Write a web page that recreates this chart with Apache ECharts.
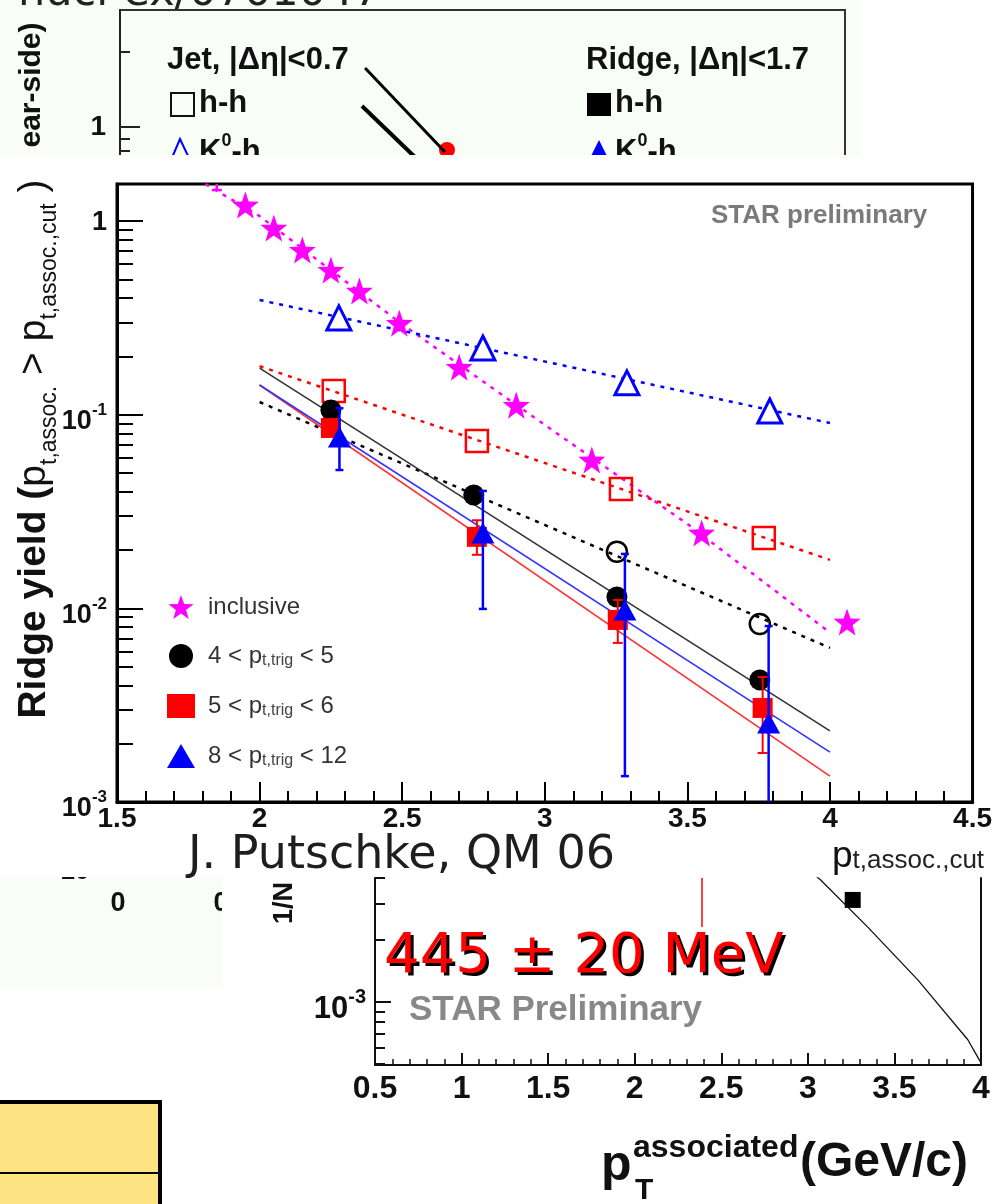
<!DOCTYPE html>
<html><head><meta charset="utf-8">
<script src="https://cdn.jsdelivr.net/npm/echarts@6/dist/echarts.min.js"></script>
<style>html,body{margin:0;padding:0;background:#fff}#c{width:995px;height:1204px}</style>
</head><body><div id="c"></div>
<script>
// ---------------- main plot data (Ridge yield vs p_t,assoc.,cut) ----------------
const xTickValues = [1.5, 2, 2.5, 3, 3.5, 4, 4.5];
const yDecadeValues = [0.001, 0.01, 0.1, 1];
const yMinorValues = [0.002,0.003,0.004,0.005,0.006,0.007,0.008,0.009,
                      0.02,0.03,0.04,0.05,0.06,0.07,0.08,0.09,
                      0.2,0.3,0.4,0.5,0.6,0.7,0.8,0.9];

// inclusive (magenta stars)
const inclX = [1.85, 1.95, 2.05, 2.15, 2.25, 2.35, 2.49, 2.70, 2.90, 3.165, 3.55, 4.06];
const inclY = [1.83, 1.21, 0.92, 0.708, 0.558, 0.435, 0.297, 0.176, 0.112, 0.0584, 0.0245, 0.0085];
const inclErrLo = [1.445, null, null, null, null, null, null, null, null, null, null, null];
const inclErrHi = [2.3, null, null, null, null, null, null, null, null, null, null, null];
const inclFitX = [1.75, 2.0, 2.5, 3.0, 3.5, 4.0];
const inclFitY = [1.75, 1.06, 0.293, 0.0885, 0.0273, 0.0075];

// 4 < pt,trig < 5 (black filled circles)
const blackX = [2.25, 2.751, 3.253, 3.754];
const blackY = [0.1057, 0.0385, 0.01145, 0.00427];
// 5 < pt,trig < 6 (red filled squares)
const redX = [2.25, 2.762, 3.256, 3.764];
const redY = [0.0854, 0.0234, 0.00871, 0.00306];
const redErrLo = [null, 0.0189, 0.00663, 0.00179];
const redErrHi = [null, 0.0285, 0.01105, 0.00442];
// 8 < pt,trig < 12 (blue filled triangles)
const blueX = [2.28, 2.783, 3.281, 3.785];
const blueY = [0.0767, 0.0245, 0.0098, 0.00256];
const blueErrLo = [0.0518, 0.00993, 0.00136, 0.0005];
const blueErrHi = [0.108, 0.0404, 0.0191, 0.0081];

// open markers
const openTriX = [2.278, 2.783, 3.288, 3.789];
const openTriY = [0.316, 0.221, 0.146, 0.1045];
const openSqX = [2.26, 2.762, 3.267, 3.768];
const openSqY = [0.1325, 0.0731, 0.0413, 0.0231];
const openCircX = [3.253, 3.754];
const openCircY = [0.0196, 0.0083];

// fit lines (endpoints at x = 2 and x = 4)
const fitX = [2.0, 4.0];
const fitBlackSolid = [0.174, 0.00233];
const fitRedSolid = [0.1423, 0.00136];
const fitBlueSolid = [0.1423, 0.00181];
const fitBlackDotted = [0.1163, 0.00625];
const fitRedDotted = [0.178, 0.0178];
const fitBlueDotted = [0.391, 0.0906];

const legendNames = ['inclusive', '4 < pt,trig < 5', '5 < pt,trig < 6', '8 < pt,trig < 12'];

// ---------------- top fragment data ----------------
const topLineAX = [1.352, 1.793], topLineAY = [1.725, 0.794];
const topLineBX = [1.335, 1.644], topLineBY = [1.214, 0.737];
const topDotX = [1.804], topDotY = [0.809];

// ---------------- bottom-right fragment data ----------------
const brCurveX = [3.045, 3.074, 3.346, 3.635, 3.924, 4.0];
const brCurveY = [0.0041, 0.00391, 0.00231, 0.00128, 0.000655, 0.000506];
const brSquareX = [3.259], brSquareY = [0.00313];

// ---------------- helpers ----------------
const zip = (xs, ys) => xs.map((x, i) => [x, ys[i]]);
const STAR = 'path://M12,0 L14.9,8.3 23.6,8.5 16.7,13.8 19.2,22.2 12,17.2 4.8,22.2 7.3,13.8 0.4,8.5 9.1,8.3 Z';
const LS = 'Liberation Sans';

function errSeries(xs, lo, hi, color, width, cap, z) {
  const data = [];
  xs.forEach((x, i) => { if (lo[i] != null) data.push([x, lo[i], hi[i]]); });
  return {
    type: 'custom', xAxisIndex: 0, yAxisIndex: 0, clip: true, z: z, silent: true,
    data, encode: { x: 0, y: [1, 2] },
    renderItem(params, api) {
      const x = api.value(0);
      const a = api.coord([x, api.value(1)]);
      const b = api.coord([x, api.value(2)]);
      const st = { stroke: color, lineWidth: width };
      return { type: 'group', children: [
        { type: 'line', shape: { x1: a[0], y1: a[1], x2: b[0], y2: b[1] }, style: st },
        { type: 'line', shape: { x1: a[0] - cap, y1: a[1], x2: a[0] + cap, y2: a[1] }, style: st },
        { type: 'line', shape: { x1: b[0] - cap, y1: b[1], x2: b[0] + cap, y2: b[1] }, style: st }
      ]};
    }
  };
}
function fitLine(xs, ys, color, width, type) {
  return { type: 'line', xAxisIndex: 0, yAxisIndex: 0, data: zip(xs, ys), showSymbol: false,
    silent: true, z: 2, lineStyle: { color, width, type }, clip: true };
}

const supRich = {
  n: { fontFamily: LS, fontSize: 27, fontWeight: 'bold', color: '#111', lineHeight: 40 },
  s: { fontFamily: LS, fontSize: 17, fontWeight: 'bold', color: '#111', lineHeight: 16, verticalAlign: 'top' },
  one: { fontFamily: LS, fontSize: 27, fontWeight: 'bold', color: '#111', lineHeight: 30, padding: [0, 0, 10, 0] }
};
const supRichBR = {
  n: { fontFamily: LS, fontSize: 31, fontWeight: 'bold', color: '#111', lineHeight: 44 },
  s: { fontFamily: LS, fontSize: 20, fontWeight: 'bold', color: '#111', lineHeight: 18, verticalAlign: 'top' }
};
function decadeLabel(v) {
  const e = Math.round(Math.log10(v));
  return e === 0 ? '{one|1}' : '{n|10}{s|' + e + '}';
}

const chart = echarts.init(document.getElementById('c'), null, { renderer: 'canvas' });

const option = {
  animation: false,
  backgroundColor: '#fff',
  grid: [
    { left: 117, top: 184, width: 856, height: 618, show: true, borderColor: '#000', borderWidth: 3, backgroundColor: 'transparent' },
    { left: 375, top: 878, width: 606, height: 187, show: false },
    { left: 120, top: 10, width: 725, height: 150, show: true, borderColor: '#333', borderWidth: 2, backgroundColor: 'transparent' }
  ],
  xAxis: [
    { gridIndex: 0, type: 'value', min: 1.5, max: 4.5, interval: 0.5,
      axisLine: { lineStyle: { color: '#000', width: 3 } },
      axisTick: { inside: true, length: 20, lineStyle: { color: '#000', width: 2 } },
      minorTick: { show: true, splitNumber: 5, length: 11, lineStyle: { color: '#000', width: 2 } },
      splitLine: { show: false }, minorSplitLine: { show: false },
      axisLabel: { margin: 3, fontFamily: LS, fontSize: 28, fontWeight: 'bold', color: '#111',
        formatter: v => String(v) } },
    { gridIndex: 1, type: 'value', min: 0.5, max: 4, interval: 0.5,
      axisLine: { lineStyle: { color: '#111', width: 2 } },
      axisTick: { inside: true, length: 12, lineStyle: { color: '#111', width: 2 } },
      minorTick: { show: true, splitNumber: 5, length: 6, lineStyle: { color: '#111', width: 1.5 } },
      splitLine: { show: false },
      axisLabel: { margin: 8, fontFamily: LS, fontSize: 32, fontWeight: 'bold', color: '#111',
        formatter: v => String(v) } },
    { gridIndex: 2, type: 'value', min: 0, max: 4, show: false }
  ],
  yAxis: [
    { gridIndex: 0, type: 'log', logBase: 10, min: 0.001, max: 1.553, position: 'left',
      axisLine: { show: true, lineStyle: { color: '#000', width: 3 } },
      axisTick: { show: true, inside: true, length: 26, customValues: yDecadeValues, lineStyle: { color: '#000', width: 2 } },
      splitLine: { show: false },
      axisLabel: { customValues: yDecadeValues, margin: 10, padding: [14, 0, 0, 0], formatter: decadeLabel, rich: supRich } },
    { gridIndex: 0, type: 'log', logBase: 10, min: 0.001, max: 1.553, position: 'left', offset: 0,
      axisLine: { show: false },
      axisTick: { show: true, inside: true, length: 16, customValues: yMinorValues, lineStyle: { color: '#000', width: 2 } },
      splitLine: { show: false }, axisLabel: { show: false } },
    // bottom-right fragment
    { gridIndex: 1, type: 'log', logBase: 10, min: 0.000494, max: 0.004, position: 'left',
      axisLine: { show: true, lineStyle: { color: '#111', width: 2 } },
      axisTick: { show: true, inside: true, length: 16, customValues: [0.001], lineStyle: { color: '#111', width: 2 } },
      splitLine: { show: false },
      axisLabel: { customValues: [0.001], margin: 9, padding: [16, 0, 0, 0], formatter: decadeLabel, rich: supRichBR } },
    { gridIndex: 1, type: 'log', logBase: 10, min: 0.000494, max: 0.004, position: 'left', offset: 0,
      axisLine: { show: false },
      axisTick: { show: true, inside: true, length: 10, customValues: [0.0005,0.0006,0.0007,0.0008,0.0009,0.002,0.003,0.004], lineStyle: { color: '#111', width: 2 } },
      splitLine: { show: false }, axisLabel: { show: false } },
    { gridIndex: 1, type: 'log', logBase: 10, min: 0.000494, max: 0.004, position: 'right',
      axisLine: { show: true, lineStyle: { color: '#111', width: 2 } },
      axisTick: { show: false }, splitLine: { show: false }, axisLabel: { show: false } },
    // top fragment
    { gridIndex: 2, type: 'log', logBase: 10, min: 0.737, max: 2.95, position: 'left',
      axisLine: { show: true, lineStyle: { color: '#222', width: 2 } },
      axisTick: { show: true, inside: true, length: 20, customValues: [1], lineStyle: { color: '#222', width: 2 } },
      splitLine: { show: false },
      axisLabel: { customValues: [1], margin: 14, fontFamily: LS, fontSize: 28, fontWeight: 'bold', color: '#111', formatter: () => '1' } },
    { gridIndex: 2, type: 'log', logBase: 10, min: 0.737, max: 2.95, position: 'left', offset: 0,
      axisLine: { show: false },
      axisTick: { show: true, inside: true, length: 10, customValues: [0.8, 0.9, 2], lineStyle: { color: '#222', width: 2 } },
      splitLine: { show: false }, axisLabel: { show: false } }
  ],
  legend: {
    orient: 'vertical', left: 162, top: 590, itemWidth: 28, itemHeight: 24, itemGap: 20,
    selectedMode: false, data: legendNames,
    formatter: name => {
      if (name === 'inclusive') return '{n|inclusive}';
      const m = name.split(' < ');
      return '{n|' + m[0] + ' < p}{s|t,trig}{n| < ' + m[2] + '}';
    },
    textStyle: { padding: [0, 0, 0, 8], fontFamily: LS, fontSize: 24, color: '#333',
      rich: { n: { fontFamily: LS, fontSize: 24, color: '#333', lineHeight: 26 },
              s: { fontFamily: LS, fontSize: 16, color: '#444', lineHeight: 14, verticalAlign: 'bottom', padding: [14, 0, 0, 0] } } }
  },
  series: [
    fitLine(inclFitX, inclFitY, '#ff00ff', 2.5, [4, 6]),
    fitLine(fitX, fitBlueDotted, '#0000ff', 2.5, [4, 6]),
    fitLine(fitX, fitRedDotted, '#ff0000', 2.5, [4, 6]),
    fitLine(fitX, fitBlackDotted, '#000000', 2.5, [4, 6]),
    fitLine(fitX, fitBlackSolid, '#333333', 1.6, 'solid'),
    fitLine(fitX, fitRedSolid, '#ff3333', 1.6, 'solid'),
    fitLine(fitX, fitBlueSolid, '#3333ff', 1.6, 'solid'),
    { name: 'open triangles', type: 'scatter', xAxisIndex: 0, yAxisIndex: 0, z: 4, data: zip(openTriX, openTriY),
      symbol: 'triangle', symbolSize: [24, 24], itemStyle: { opacity: 1, color: '#fff', borderColor: '#0000ff', borderWidth: 3 } },
    { name: 'open squares', type: 'scatter', xAxisIndex: 0, yAxisIndex: 0, z: 4, data: zip(openSqX, openSqY),
      symbol: 'rect', symbolSize: 22, itemStyle: { opacity: 1, color: 'rgba(255,255,255,0)', borderColor: '#ff0000', borderWidth: 2.5 } },
    { name: 'open circles', type: 'scatter', xAxisIndex: 0, yAxisIndex: 0, z: 4, data: zip(openCircX, openCircY),
      symbol: 'circle', symbolSize: 20, itemStyle: { opacity: 1, color: 'rgba(255,255,255,0)', borderColor: '#000', borderWidth: 2.5 } },
    { name: legendNames[1], type: 'scatter', xAxisIndex: 0, yAxisIndex: 0, z: 5, data: zip(blackX, blackY),
      symbol: 'circle', symbolSize: 21, itemStyle: { opacity: 1, color: '#000' } },
    errSeries(redX, redErrLo, redErrHi, '#ff0000', 2, 5, 6),
    { name: legendNames[2], type: 'scatter', xAxisIndex: 0, yAxisIndex: 0, z: 6, data: zip(redX, redY),
      symbol: 'rect', symbolSize: 20, itemStyle: { opacity: 1, color: '#ff0000' } },
    errSeries(blueX, blueErrLo, blueErrHi, '#0000ff', 2.5, 4, 7),
    { name: legendNames[3], type: 'scatter', xAxisIndex: 0, yAxisIndex: 0, z: 7, data: zip(blueX, blueY),
      symbol: 'triangle', symbolSize: [23, 21], itemStyle: { opacity: 1, color: '#0000ff' } },
    errSeries(inclX, inclErrLo, inclErrHi, '#ff00ff', 2.5, 5, 8),
    { name: legendNames[0], type: 'scatter', xAxisIndex: 0, yAxisIndex: 0, z: 8, data: zip(inclX, inclY),
      symbol: STAR, symbolSize: 27, itemStyle: { opacity: 1, color: '#ff00ff' } },

    // bottom-right fragment
    { type: 'line', xAxisIndex: 1, yAxisIndex: 2, data: zip(brCurveX, brCurveY), showSymbol: false, silent: true,
      lineStyle: { color: '#111', width: 1.3 } },
    { type: 'scatter', xAxisIndex: 1, yAxisIndex: 2, data: zip(brSquareX, brSquareY), symbol: 'rect', symbolSize: 16,
      itemStyle: { opacity: 1, color: '#000' }, silent: true },

    // top fragment
    { type: 'line', xAxisIndex: 2, yAxisIndex: 5, data: zip(topLineAX, topLineAY), showSymbol: false, silent: true,
      lineStyle: { color: '#000', width: 3 } },
    { type: 'line', xAxisIndex: 2, yAxisIndex: 5, data: zip(topLineBX, topLineBY), showSymbol: false, silent: true,
      lineStyle: { color: '#000', width: 4 } },
    { type: 'scatter', xAxisIndex: 2, yAxisIndex: 5, data: zip(topDotX, topDotY), symbol: 'circle', symbolSize: 16,
      itemStyle: { opacity: 1, color: '#ff0000' }, silent: true }
  ],
  graphic: [
    // backgrounds of fragments
    { type: 'rect', z: -10, silent: true, shape: { x: 0, y: 0, width: 860, height: 155 }, style: { fill: '#f8fdf8' } },
    { type: 'rect', z: -10, silent: true, shape: { x: 0, y: 877, width: 222, height: 111 }, style: { fill: '#f8fdf8' } },
    // top fragment texts
    { type: 'text', z: 20, silent: true, x: 18, y: -6, style: { text: 'nucl-ex/0701047', font: '43px "DejaVu Sans"', fill: '#222', verticalAlign: 'middle' } },
    { type: 'text', z: 20, silent: true, x: 32, y: 85, rotation: Math.PI / 2, style: { text: 'ear-side)', font: 'bold 30px "Liberation Sans"', fill: '#111', align: 'center', verticalAlign: 'middle' } },
    { type: 'text', z: 20, silent: true, x: 167, y: 60, style: { text: 'Jet, |\u0394\u03b7|<0.7', font: 'bold 31px "Liberation Sans"', fill: '#111', verticalAlign: 'middle' } },
    { type: 'rect', z: 20, silent: true, shape: { x: 171, y: 93, width: 23, height: 23 }, style: { fill: 'none', stroke: '#111', lineWidth: 2 } },
    { type: 'text', z: 20, silent: true, x: 199, y: 103, style: { text: 'h-h', font: 'bold 31px "Liberation Sans"', fill: '#111', verticalAlign: 'middle' } },
    { type: 'polygon', z: 20, silent: true, shape: { points: [[180, 139], [171, 160], [190, 160]] }, style: { fill: 'none', stroke: '#0000ff', lineWidth: 2 } },
    { type: 'text', z: 20, silent: true, x: 199, y: 152, style: { text: '{n|K}{s|0}{n|-h}', verticalAlign: 'middle',
        rich: { n: { font: 'bold 31px "Liberation Sans"', fill: '#111', lineHeight: 40 }, s: { font: 'bold 18px "Liberation Sans"', fill: '#111', lineHeight: 18, verticalAlign: 'top' } } } },
    { type: 'text', z: 20, silent: true, x: 586, y: 60, style: { text: 'Ridge, |\u0394\u03b7|<1.7', font: 'bold 31px "Liberation Sans"', fill: '#111', verticalAlign: 'middle' } },
    { type: 'rect', z: 20, silent: true, shape: { x: 587, y: 93, width: 24, height: 23 }, style: { fill: '#000' } },
    { type: 'text', z: 20, silent: true, x: 615, y: 103, style: { text: 'h-h', font: 'bold 31px "Liberation Sans"', fill: '#111', verticalAlign: 'middle' } },
    { type: 'polygon', z: 20, silent: true, shape: { points: [[599, 140], [589, 160], [609, 160]] }, style: { fill: '#0000ff' } },
    { type: 'text', z: 20, silent: true, x: 615, y: 152, style: { text: '{n|K}{s|0}{n|-h}', verticalAlign: 'middle',
        rich: { n: { font: 'bold 31px "Liberation Sans"', fill: '#111', lineHeight: 40 }, s: { font: 'bold 18px "Liberation Sans"', fill: '#111', lineHeight: 18, verticalAlign: 'top' } } } },
    // white gap between top fragment and main plot
    { type: 'rect', z: 50, silent: true, shape: { x: 0, y: 155, width: 995, height: 26 }, style: { fill: '#fff' } },

    // main plot texts
    { type: 'text', z: 20, silent: true, x: 711, y: 216, style: { text: 'STAR preliminary', font: 'bold 26px "Liberation Sans"', fill: '#7a7a7a', verticalAlign: 'middle' } },
    { type: 'text', z: 60, silent: true, x: 38, y: 449, rotation: Math.PI / 2,
      style: { text: '{b|Ridge yield (}{p|p}{s|t,assoc.}{p| > p}{s|t,assoc.,cut}{p| )}', align: 'center', verticalAlign: 'middle',
        rich: { b: { font: 'bold 39px "Liberation Sans"', fill: '#111', lineHeight: 46, verticalAlign: 'top' },
                p: { font: '39px "Liberation Sans"', fill: '#111', lineHeight: 46, verticalAlign: 'top' },
                s: { font: '23px "Liberation Sans"', fill: '#111', lineHeight: 22, verticalAlign: 'bottom' } } } },
    { type: 'text', z: 20, silent: true, x: 832, y: 856,
      style: { text: '{p|p}{s|t,assoc.,cut}', verticalAlign: 'middle',
        rich: { p: { font: '37px "Liberation Sans"', fill: '#111', lineHeight: 36, verticalAlign: 'top' },
                s: { font: '26px "Liberation Sans"', fill: '#222', lineHeight: 20, verticalAlign: 'bottom' } } } },

    // bottom-left fragment
    { type: 'text', z: 20, silent: true, x: 75, y: 872, style: { text: '10', font: 'bold 26px "Liberation Sans"', fill: '#111', align: 'center', verticalAlign: 'middle' } },
    { type: 'text', z: 20, silent: true, x: 118, y: 904, style: { text: '0', font: 'bold 27px "Liberation Sans"', fill: '#111', align: 'center', verticalAlign: 'middle' } },
    { type: 'text', z: 20, silent: true, x: 221, y: 904, style: { text: '0', font: 'bold 27px "Liberation Sans"', fill: '#111', align: 'center', verticalAlign: 'middle' } },
    { type: 'rect', z: 50, silent: true, shape: { x: 0, y: 840, width: 230, height: 37 }, style: { fill: '#fff' } },
    { type: 'rect', z: 50, silent: true, shape: { x: 222, y: 877, width: 40, height: 113 }, style: { fill: '#fff' } },
    // yellow table
    { type: 'rect', z: 20, silent: true, shape: { x: -4, y: 1102, width: 164, height: 110 }, style: { fill: '#fde382', stroke: '#000', lineWidth: 4 } },
    { type: 'line', z: 21, silent: true, shape: { x1: 0, y1: 1173, x2: 160, y2: 1173 }, style: { stroke: '#000', lineWidth: 2 } },

    // bottom-right fragment
    { type: 'text', z: 60, silent: true, x: 188, y: 856, style: { text: 'J. Putschke, QM 06', font: '46px "DejaVu Sans"', fill: '#1e1e1e', verticalAlign: 'middle' } },
    { type: 'text', z: 20, silent: true, x: 285, y: 903, rotation: Math.PI / 2, style: { text: '1/N', font: 'bold 27px "Liberation Sans"', fill: '#111', align: 'center', verticalAlign: 'middle' } },
    { type: 'line', z: 20, silent: true, shape: { x1: 702, y1: 878, x2: 702, y2: 927 }, style: { stroke: '#ff0000', lineWidth: 1.5 } },
    { type: 'text', z: 21, silent: true, x: 387, y: 960, style: { text: '445 \u00b1 20 MeV', font: '56px "DejaVu Sans"', fill: '#000', verticalAlign: 'middle' } },
    { type: 'text', z: 22, silent: true, x: 384, y: 957, style: { text: '445 \u00b1 20 MeV', font: '56px "DejaVu Sans"', fill: '#ff0000', verticalAlign: 'middle' } },
    { type: 'text', z: 20, silent: true, x: 409, y: 1010, style: { text: 'STAR Preliminary', font: 'bold 35px "Liberation Sans"', fill: '#888', verticalAlign: 'middle' } },
    { type: 'text', z: 20, silent: true, x: 601, y: 1166, style: { text: 'p', font: 'bold 50px "Liberation Sans"', fill: '#111', verticalAlign: 'middle' } },
    { type: 'text', z: 20, silent: true, x: 633, y: 1148, style: { text: 'associated', font: 'bold 32px "Liberation Sans"', fill: '#111', verticalAlign: 'middle' } },
    { type: 'text', z: 20, silent: true, x: 635, y: 1191, style: { text: 'T', font: 'bold 30px "Liberation Sans"', fill: '#111', verticalAlign: 'middle' } },
    { type: 'text', z: 20, silent: true, x: 800, y: 1163, style: { text: '(GeV/c)', font: 'bold 48px "Liberation Sans"', fill: '#111', verticalAlign: 'middle' } }
  ]
};
chart.setOption(option);
</script>
</body></html>
